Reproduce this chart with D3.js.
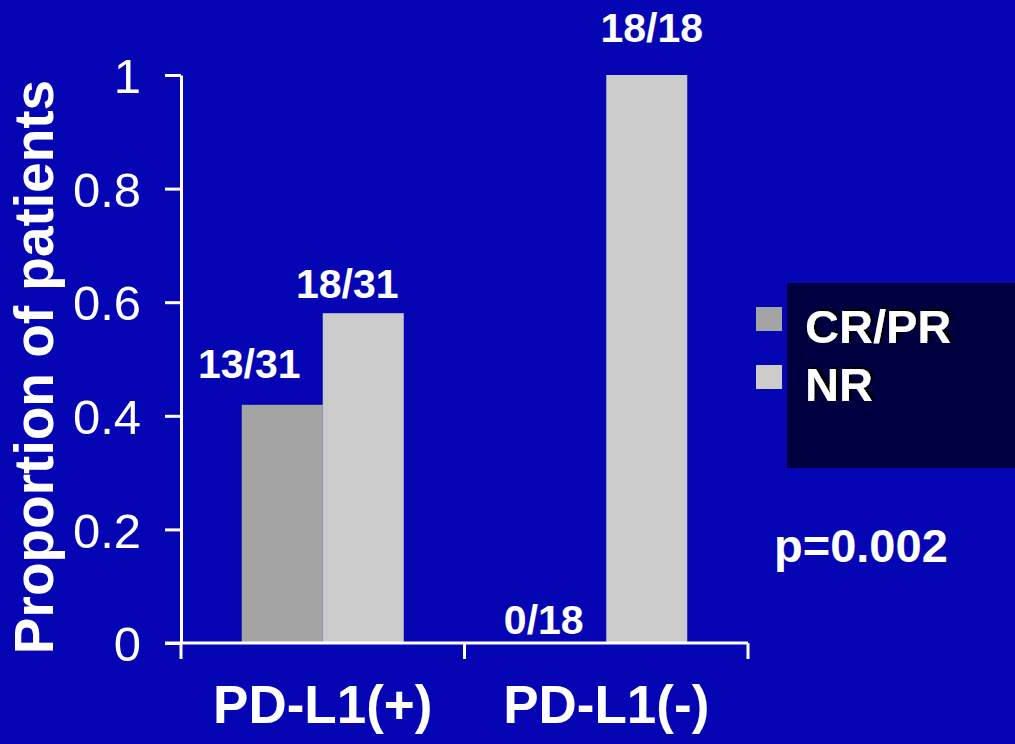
<!DOCTYPE html>
<html>
<head>
<meta charset="utf-8">
<script src="https://cdn.jsdelivr.net/npm/d3@7"></script>
<style>
  html, body { margin: 0; padding: 0; background: #0505b4; }
  svg { display: block; }
  text { font-family: "Liberation Sans", Arial, sans-serif; fill: #ffffff; }
</style>
</head>
<body>
<svg id="chart" width="1015" height="744"></svg>
<script>
// ---- data ----
const groups = ["PD-L1(+)", "PD-L1(-)"];
const series = ["CR/PR", "NR"];
const crprValues = [13/31, 0/18];
const nrValues = [18/31, 18/18];
const crprLabels = ["13/31", "0/18"];
const nrLabels = ["18/31", "18/18"];
const yTicks = [0, 0.2, 0.4, 0.6, 0.8, 1];
const yTickLabels = ["0", "0.2", "0.4", "0.6", "0.8", "1"];
const yTitle = "Proportion of patients";
const pValueText = "p=0.002";

// ---- layout (label nudges relative to bar centre / bar top) ----
const crprLabelDx = [-33, -22];
const crprLabelDy = [-27, -9];
const nrLabelDx = [-16, 5];
const nrLabelDy = [-15, -33];

const colors = { "CR/PR": "#a4a4a4", "NR": "#cbcbcb" };
const bg = "#0505b4";

const svg = d3.select("#chart");
const defs = svg.append("defs");
const shadow = defs.append("filter").attr("id", "shadow")
  .attr("x", "-10%").attr("y", "-20%").attr("width", "130%").attr("height", "140%");
shadow.append("feFlood").attr("flood-color", "#000000").attr("result", "flood");
shadow.append("feComposite").attr("in", "flood").attr("in2", "SourceAlpha").attr("operator", "in").attr("result", "sh");
shadow.append("feOffset").attr("in", "sh").attr("dx", 3).attr("dy", -2).attr("result", "off");
const merge = shadow.append("feMerge");
merge.append("feMergeNode").attr("in", "off");
merge.append("feMergeNode").attr("in", "SourceGraphic");

svg.append("rect").attr("width", 1015).attr("height", 744).attr("fill", bg);

const y = d3.scaleLinear().domain([0, 1]).range([643, 75]);
const x0 = d3.scaleBand().domain(groups).range([181, 748]).paddingInner(0).paddingOuter(0);
const x1 = d3.scaleBand().domain(series).range([0, x0.bandwidth()]).paddingInner(0).paddingOuter(0.75);

const rows = groups.map((g, i) => ({
  group: g,
  values: [
    { s: "CR/PR", v: crprValues[i], label: crprLabels[i], dx: crprLabelDx[i], dy: crprLabelDy[i] },
    { s: "NR", v: nrValues[i], label: nrLabels[i], dx: nrLabelDx[i], dy: nrLabelDy[i] }
  ]
}));

// bars
const gGroups = svg.selectAll("g.grp").data(rows).enter().append("g")
  .attr("class", "grp")
  .attr("transform", d => `translate(${x0(d.group)},0)`);

gGroups.selectAll("rect").data(d => d.values.filter(v => v.v > 0)).enter().append("rect")
  .attr("x", d => x1(d.s))
  .attr("width", x1.bandwidth())
  .attr("y", d => y(d.v))
  .attr("height", d => y(0) - y(d.v))
  .attr("fill", d => colors[d.s]);

gGroups.selectAll("text.lbl").data(d => d.values).enter().append("text")
  .attr("class", "lbl")
  .attr("x", d => x1(d.s) + x1.bandwidth() / 2 + d.dx)
  .attr("y", d => y(d.v) + d.dy)
  .attr("text-anchor", "middle")
  .style("font-size", "41px")
  .style("font-weight", "bold")
  .text(d => d.label);

// y axis
const yAxis = d3.axisLeft(y)
  .tickValues(yTicks)
  .tickFormat((d, i) => yTickLabels[i])
  .tickSize(16)
  .tickSizeOuter(0)
  .tickPadding(24);
const gy = svg.append("g").attr("transform", "translate(181,0)").call(yAxis);
gy.selectAll("line, path").attr("stroke", "#fff").attr("stroke-width", 3);
gy.selectAll("text").style("font-size", "49px").style("font-family", '"Liberation Sans", Arial, sans-serif')
  .attr("fill", "#fff").attr("dy", "0.36em");

// x axis
const xAxis = d3.axisBottom(x0).tickSize(0).tickPadding(42);
const gx = svg.append("g").attr("transform", `translate(0,${y(0)})`).call(xAxis);
gx.select("path.domain").remove();
gx.selectAll("text").style("font-size", "53px").style("font-weight", "bold")
  .style("font-family", '"Liberation Sans", Arial, sans-serif').attr("fill", "#fff");
gx.append("line").attr("x1", 165).attr("x2", x0.range()[1]).attr("y1", 0).attr("y2", 0)
  .attr("stroke", "#fff").attr("stroke-width", 3);
const boundaries = groups.map(g => x0(g)).concat([x0(groups[groups.length - 1]) + x0.bandwidth()]);
gx.selectAll("line.bt").data(boundaries).enter().append("line")
  .attr("class", "bt")
  .attr("x1", d => d).attr("x2", d => d)
  .attr("y1", 0).attr("y2", 16)
  .attr("stroke", "#fff").attr("stroke-width", 3);

// y title
svg.append("text")
  .attr("transform", "translate(53,367) rotate(-90)")
  .attr("text-anchor", "middle")
  .style("font-size", "55px")
  .style("font-weight", "bold")
  .text(yTitle);

// legend
svg.append("rect").attr("x", 787).attr("y", 283).attr("width", 228).attr("height", 185).attr("fill", "#000040");
const leg = svg.selectAll("g.leg").data(series).enter().append("g")
  .attr("class", "leg")
  .attr("transform", (d, i) => `translate(0,${i * 58})`);
leg.append("rect").attr("x", 756).attr("y", 307).attr("width", 26).attr("height", 24)
  .attr("fill", d => colors[d]);
leg.append("text").attr("x", 805).attr("y", 343)
  .attr("filter", "url(#shadow)")
  .style("font-size", "47px").style("font-weight", "bold")
  .text(d => d);

// p-value
svg.append("text").attr("x", 774).attr("y", 562)
  .style("font-size", "47px").style("font-weight", "bold")
  .text(pValueText);
</script>
</body>
</html>
